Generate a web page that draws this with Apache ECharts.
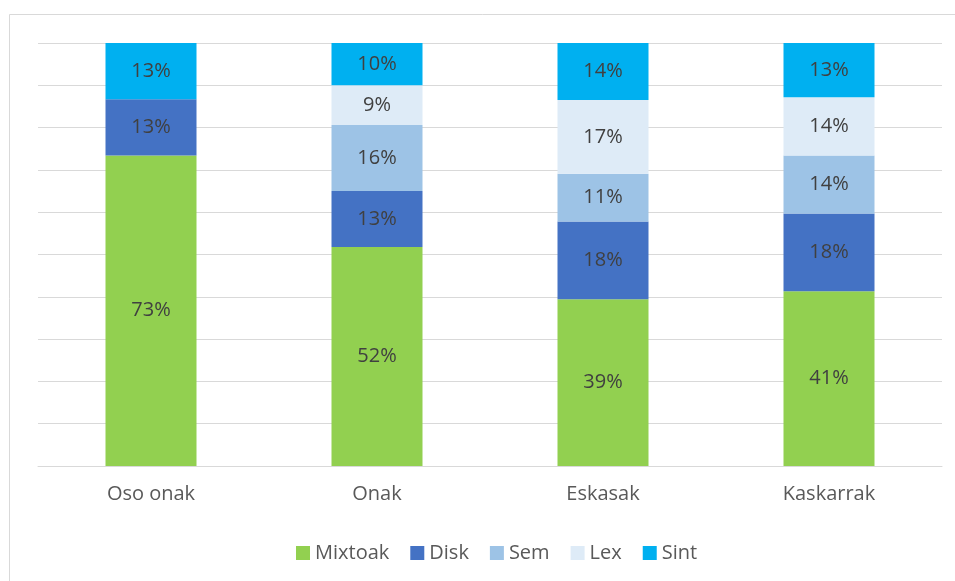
<!DOCTYPE html>
<html>
<head>
<meta charset="utf-8">
<script src="https://cdn.jsdelivr.net/npm/echarts@6/dist/echarts.min.js"></script>
<style>
  html, body { margin: 0; padding: 0; background: #fff; }
  #chart { width: 955px; height: 581px; }
</style>
</head>
<body>
<div id="chart"></div>
<script>
// categorias
const categories = ['Oso onak', 'Onak', 'Eskasak', 'Kaskarrak'];
// balioak (%)
const mixtoak = [73.4, 51.8, 39.4, 41.3];
const disk = [13.3, 13.2, 18.4, 18.4];
const sem = [null, 15.6, 11.3, 13.7];
const lex = [null, 9.4, 17.4, 13.8];
const sint = [13.3, 10.0, 13.5, 12.8];

const fontFam = '"Open Sans", "Noto Sans", sans-serif';

function mkSeries(name, data, color) {
    return {
        name: name,
        type: 'bar',
        stack: 'total',
        barWidth: 91,
        data: data,
        itemStyle: { color: color },
        label: {
            show: true,
            position: 'inside',
            color: '#404040',
            fontSize: 20,
            fontFamily: fontFam,
            formatter: function (p) { return Math.round(p.value) + '%'; }
        }
    };
}

const chart = echarts.init(document.getElementById('chart'));
chart.setOption({
    animation: false,
    backgroundColor: '#fff',
    graphic: [{
        type: 'rect',
        shape: { x: 9.5, y: 14.5, width: 1000, height: 1000 },
        style: { fill: 'none', stroke: '#d9d9d9', lineWidth: 1 },
        silent: true
    }],
    grid: { left: 38, right: 13, top: 43, bottom: 115 },
    legend: {
        top: 538,
        left: 291,
        icon: 'rect',
        itemWidth: 14,
        itemHeight: 14,
        itemGap: 21,
        textStyle: { color: '#595959', fontSize: 20, fontFamily: fontFam }
    },
    xAxis: {
        type: 'category',
        data: categories,
        axisLine: { lineStyle: { color: '#d9d9d9' } },
        axisTick: { show: false },
        axisLabel: { color: '#595959', fontSize: 20, fontFamily: fontFam, margin: 18 }
    },
    yAxis: {
        type: 'value',
        min: 0,
        max: 100,
        interval: 10,
        axisLabel: { show: false },
        axisLine: { show: false },
        splitLine: { lineStyle: { color: '#d9d9d9' } }
    },
    series: [
        mkSeries('Mixtoak', mixtoak, '#92D050'),
        mkSeries('Disk', disk, '#4472C4'),
        mkSeries('Sem', sem, '#9DC3E6'),
        mkSeries('Lex', lex, '#DEEBF7'),
        mkSeries('Sint', sint, '#00B0F0')
    ]
});
</script>
</body>
</html>
